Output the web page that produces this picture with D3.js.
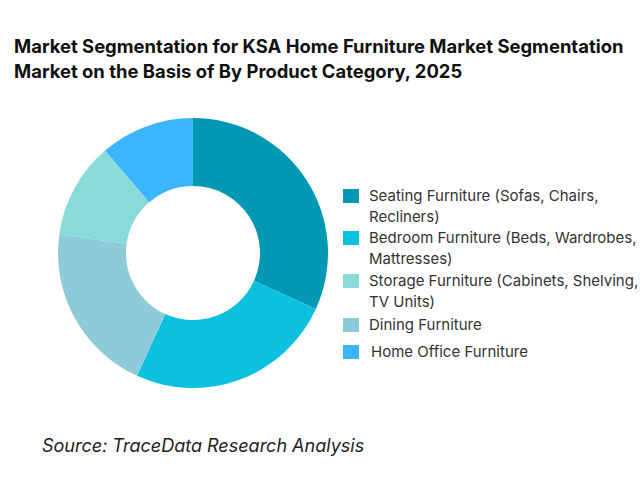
<!DOCTYPE html>
<html><head><meta charset="utf-8">
<script src="https://cdn.jsdelivr.net/npm/d3@7"></script>
<style>
html,body{margin:0;padding:0;background:#fff;}
svg{display:block;font-family:Inter, "Noto Sans", sans-serif;}
</style></head>
<body>
<svg id="chart" width="640" height="480"></svg>
<script>
const categories = [
  "Seating Furniture (Sofas, Chairs, Recliners)",
  "Bedroom Furniture (Beds, Wardrobes, Mattresses)",
  "Storage Furniture (Cabinets, Shelving, TV Units)",
  "Dining Furniture",
  "Home Office Furniture"
];
const legendLines = [
  ["Seating Furniture (Sofas, Chairs,", "Recliners)"],
  ["Bedroom Furniture (Beds, Wardrobes,", "Mattresses)"],
  ["Storage Furniture (Cabinets, Shelving,", "TV Units)"],
  ["Dining Furniture"],
  ["Home Office Furniture"]
];
const values = [31.8, 25.0, 11.5, 20.4, 11.3];
const colors = ["#0098b3", "#0cc0df", "#88dbd8", "#8ecbd8", "#3bb6fe"];
const titleLines = [
  "Market Segmentation for KSA Home Furniture Market Segmentation",
  "Market on the Basis of By Product Category, 2025"
];
const sourceText = "Source: TraceData Research Analysis";

const svg = d3.select("#chart");
const data = categories.map((c, i) => ({name: c, value: values[i], color: colors[i], lines: legendLines[i]}));

svg.append("g").selectAll("text").data(titleLines).join("text")
  .attr("x", 14).attr("y", (d, i) => 53 + i * 25.3)
  .attr("font-size", 18.45).attr("font-weight", 700).attr("fill", "#111")
  .text(d => d);

const pie = d3.pie().value(d => d.value).sort((a, b) => b.value - a.value);
const arc = d3.arc().innerRadius(67).outerRadius(135);
const g = svg.append("g").attr("transform", "translate(193,253)");
g.selectAll("path").data(pie(data)).join("path")
  .attr("d", arc).attr("fill", d => d.data.color);

const legend = svg.append("g");
const itemY = [189, 231, 274, 318, 345];
const items = legend.selectAll("g").data(data).join("g")
  .attr("transform", (d, i) => `translate(343,${itemY[i]})`);
items.append("rect").attr("width", 16).attr("height", 14).attr("fill", d => d.color);
items.each(function(d, i) {
  d3.select(this).selectAll("text").data(d.lines).join("text")
    .attr("x", i === 4 ? 28 : 26).attr("y", (t, j) => 12 + j * 20.5)
    .attr("font-size", 15).attr("fill", "#333")
    .text(t => t);
});

svg.append("text").attr("x", 42).attr("y", 452)
  .attr("font-size", 18).attr("font-style", "italic").attr("fill", "#222")
  .text(sourceText);
</script>
</body></html>
